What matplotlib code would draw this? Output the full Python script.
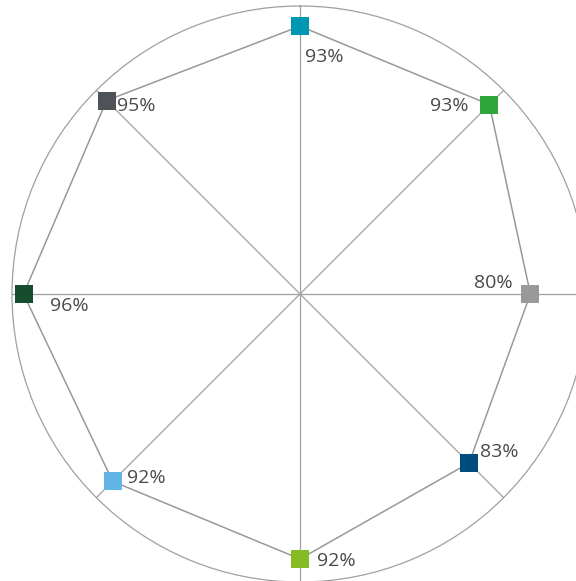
import numpy as np
import matplotlib
matplotlib.use("Agg")
from matplotlib import pyplot as plt

# --------------------- дані ----------------------
values = [93, 93, 80, 83, 92, 92, 96, 95]
labels = ["93%", "93%", "80%", "83%", "92%", "92%", "96%", "95%"]
colors = ["#0097b2", "#2ea53b", "#97999b", "#004b7d",
          "#85bc25", "#62b6e6", "#164d2e", "#4e5259"]
# зсув підписів у пікселях (dx, dy) та вирівнювання
offsets = [(5, -31), (-21, -1), (-18, 11), (11, 11),
           (17, -2), (14, 3), (26, -12), (10, -5)]
aligns = ["left", "right", "right", "left", "left", "left", "left", "left"]

angles = np.arange(len(values)) * 2 * np.pi / len(values)

plt.rcParams["font.family"] = ["Open Sans", "DejaVu Sans"]

fig = plt.figure(figsize=(5.76, 5.81), dpi=100)
ax = fig.add_axes([12 / 576, -1 / 581, 576 / 576, 576 / 581], projection="polar")
ax.set_theta_zero_location("N")
ax.set_theta_direction(-1)
ax.set_ylim(0, 100)

# спиці
for a in angles:
    ax.plot([a, a], [0, 100], color="#a0a0a0", lw=0.9, zorder=1)

# полігон
ax.plot(np.append(angles, angles[0]), values + [values[0]],
        color="#999999", lw=1.1, zorder=2)

for a, v, c, lab, off, ha in zip(angles, values, colors, labels, offsets, aligns):
    ax.plot(a, v, marker="s", ms=13, color=c, mew=0, zorder=3)
    ax.annotate(lab, (a, v), xytext=off, textcoords="offset pixels",
                ha=ha, va="center", fontsize=14, color="#4a4a4a", zorder=4)

ax.set_xticks([])
ax.set_yticks([])
ax.grid(False)
ax.spines["polar"].set_color("#a0a0a0")
ax.spines["polar"].set_linewidth(0.9)

fig.savefig("out.png", dpi=100)
